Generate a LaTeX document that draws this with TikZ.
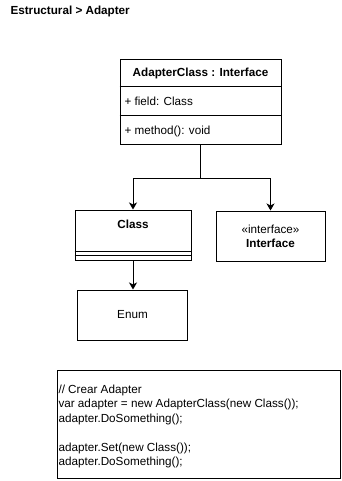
\documentclass[tikz,border=0pt]{standalone}
\usepackage{fontspec}
\setmainfont{Liberation Sans}
\usepackage{tikz}
\usetikzlibrary{arrows.meta}
\tikzset{umlbox/.style={draw, fill=white, inner sep=0pt},
  txt/.style={inner sep=0pt, font=\fontsize{11.7}{14.4}\selectfont},
  assoc/.style={-{Stealth[length=7pt,width=8pt,inset=2pt]}}}

\begin{document}
\begin{tikzpicture}[x=1pt, y=-1pt, line width=1pt]
		\useasboundingbox (0,0) rectangle (341,481);
		\node[txt, anchor=west, font=\fontsize{11.7}{14.4}\selectfont\bfseries] (title) at (10,11.5) {Estructural > Adapter};
		% adapter class with its two compartments
		\node[umlbox, minimum width=161pt, minimum height=85pt] (ac) at (200.5,102.5) {};
		\draw (ac.north west) ++(0,27) -- ++(161,0);
		\draw (ac.north west) ++(0,56) -- ++(161,0);
		\node[txt, font=\fontsize{11.7}{14.4}\selectfont\bfseries] (acname) at (200.5,73.5) {AdapterClass : Interface};
		\node[txt, anchor=west] (acfield) at (124,101) {+ field: Class};
		\node[txt, anchor=west] (acmethod) at (124,131) {+ method(): void};
		% adaptee and target
		\node[umlbox, minimum width=116pt, minimum height=50pt] (cls) at (133,235) {};
		\draw (cls.north west) ++(0,42) -- ++(116,0);
		\draw (cls.north west) ++(0,46) -- ++(116,0);
		\node[txt, font=\fontsize{11.7}{14.4}\selectfont\bfseries] (clsname) at (133,224) {Class};
		\node[umlbox, minimum width=109pt, minimum height=50pt, align=center, font=\fontsize{11.7}{14}\selectfont] (iface) at (270.5,236) {«interface»\\\textbf{Interface}};
		\node[umlbox, minimum width=110pt, minimum height=50pt, txt, draw] (enum) at (132.5,315) {Enum};
		\coordinate (split) at (200.5,178);
		\draw[assoc] (ac.south) -- (split) -| (cls.north);
		\draw[assoc] (split) -| (iface.north);
		\draw[assoc] (cls.south) -- (cls.south |- enum.north);
		% usage snippet
		\draw (57,370) rectangle (340,478);
		\node[txt, anchor=west, align=left] (code) at (58,426.5) {// Crear Adapter\\var adapter = new AdapterClass(new Class());\\adapter.DoSomething();\\[14.4pt]adapter.Set(new Class());\\adapter.DoSomething();};
\end{tikzpicture}
\end{document}
